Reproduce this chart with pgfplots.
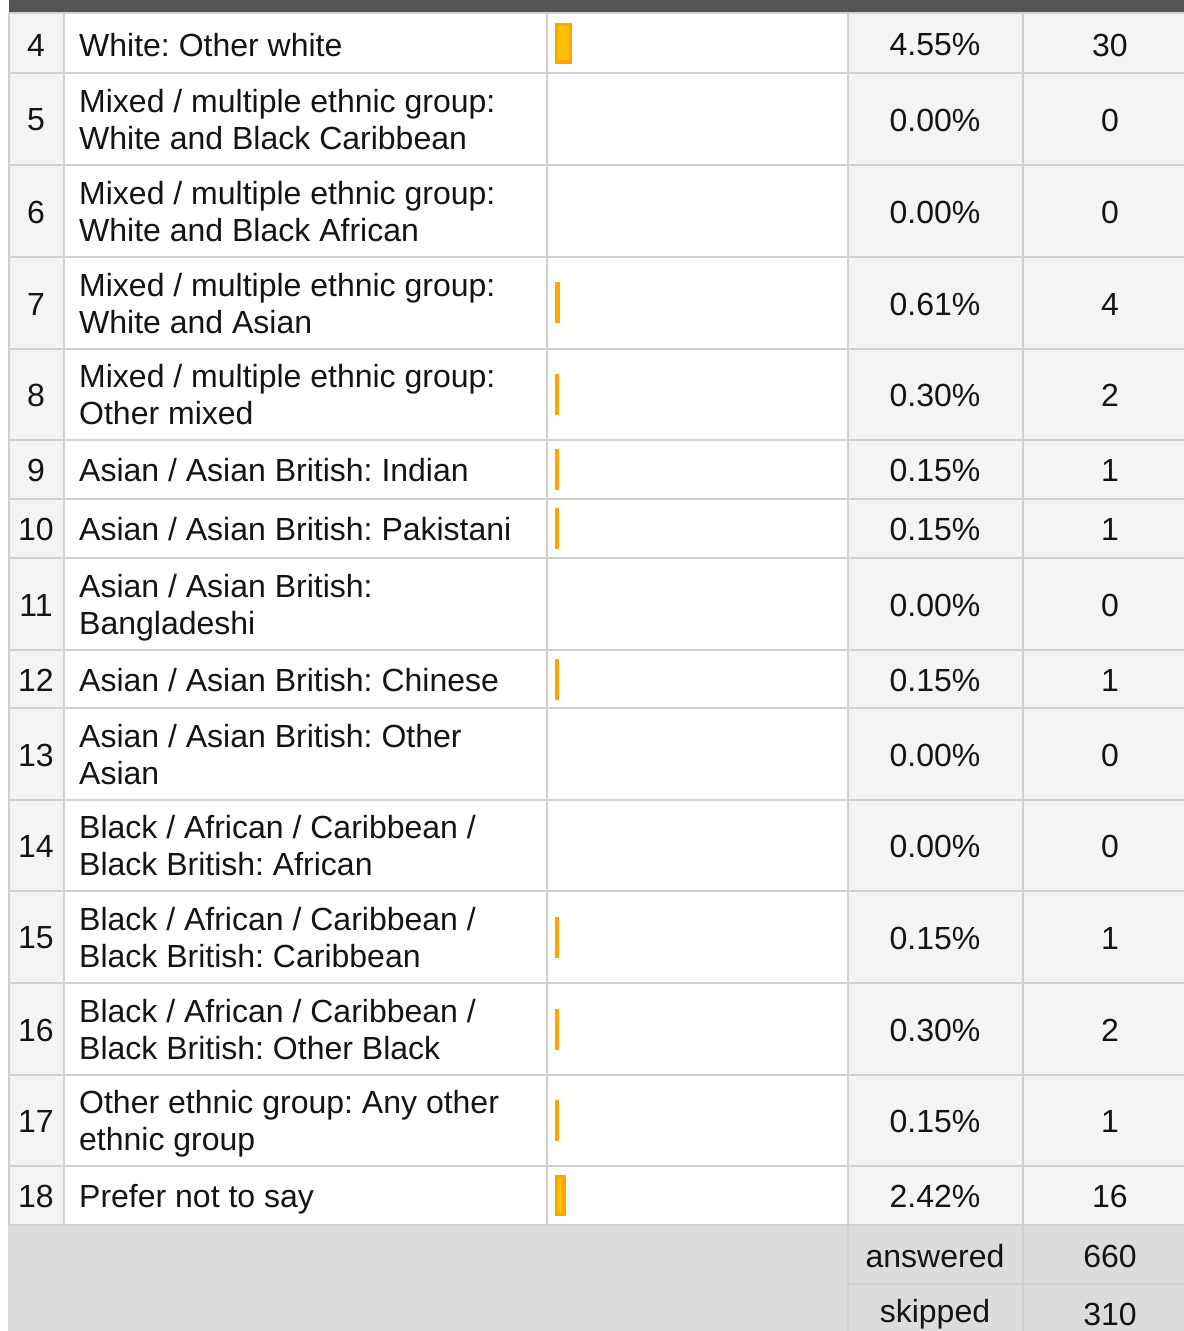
\documentclass[border=0pt]{standalone}
\usepackage{pgfplots}
\usepackage{pgfplotstable}
\pgfplotsset{compat=1.18}
\usepackage{fontspec}
\setmainfont{Liberation Sans}
\frenchspacing

\definecolor{topbar}{RGB}{84,86,85}
\definecolor{gridc}{RGB}{208,208,208}
\definecolor{cellbg}{RGB}{244,244,243}
\definecolor{footbg}{RGB}{220,220,220}
\definecolor{barfill}{RGB}{255,192,8}
\definecolor{barline}{RGB}{255,165,0}
\definecolor{txt}{RGB}{20,20,20}

% row number, row centre (px from top), percent, count
\pgfplotstableread{
row y pct count
4 43.5 4.55 30
5 119 0.00 0
6 211 0.00 0
7 303 0.61 4
8 394.5 0.30 2
9 469.5 0.15 1
10 528.5 0.15 1
11 604 0.00 0
12 679 0.15 1
13 754 0.00 0
14 845.5 0.00 0
15 937 0.15 1
16 1029 0.30 2
17 1120.5 0.15 1
18 1195.5 2.42 16
}\rows

\pgfplotsset{
  tbl/.style={
    width=1184bp, height=1331bp, scale only axis,
    at={(0,0)}, anchor=south west,
    ymin=0, ymax=1331, y dir=reverse,
    hide axis, clip=false,
  },
}

\begin{document}
\begin{tikzpicture}
\begin{axis}[tbl, xmin=0, xmax=1184]
  % backgrounds
  \fill[topbar] (9,0) rectangle (1184,13);
  \fill[cellbg] (9,13) rectangle (64,1225);
  \fill[white] (64,13) rectangle (848,1225);
  \fill[cellbg] (848,13) rectangle (1184,1225);
  \fill[footbg] (8,1225) rectangle (1184,1331);
  % grid
  \pgfplotsinvokeforeach{13,73,165,257,349,440,499,558,650,708,800,891,983,1075,1166,1225}{
    \draw[gridc, line width=2.5] (9,#1) -- (1184,#1);
  }
  \pgfplotsinvokeforeach{9,64,547,848,1023}{
    \draw[gridc, line width=2.5] (#1,13) -- (#1,1225);
  }
  \draw[gridc, line width=2.5] (848,1225) -- (848,1331);
  \draw[gridc, line width=2.5] (1023,1225) -- (1023,1331);
  \draw[gridc, line width=2.5] (848,1284) -- (1184,1284);

  % text
  \begin{scope}[every node/.style={text=txt, font=\fontsize{32bp}{37bp}\selectfont, inner sep=0pt}]
    \node at (36,45) {4};
    \node at (36,120) {5};
    \node at (36,212) {6};
    \node at (36,304) {7};
    \node at (36,395) {8};
    \node at (36,470) {9};
    \node at (36,529) {10};
    \node at (36,605) {11};
    \node at (36,680) {12};
    \node at (36,755) {13};
    \node at (36,846) {14};
    \node at (36,938) {15};
    \node at (36,1030) {16};
    \node at (36,1121) {17};
    \node at (36,1196) {18};

    \begin{scope}[every node/.append style={anchor=west, align=left}]
      \node at (79,45) {White: Other white};
      \node at (79,120) {Mixed / multiple ethnic group:\\White and Black Caribbean};
      \node at (79,212) {Mixed / multiple ethnic group:\\White and Black African};
      \node at (79,304) {Mixed / multiple ethnic group:\\White and Asian};
      \node at (79,395) {Mixed / multiple ethnic group:\\Other mixed};
      \node at (79,470) {Asian / Asian British: Indian};
      \node at (79,529) {Asian / Asian British: Pakistani};
      \node at (79,608) {Asian / Asian British:\\Bangladeshi};
      \node at (79,680) {Asian / Asian British: Chinese};
      \node at (79,755) {Asian / Asian British: Other\\Asian};
      \node at (79,846) {Black / African / Caribbean /\\Black British: African};
      \node at (79,938) {Black / African / Caribbean /\\Black British: Caribbean};
      \node at (79,1030) {Black / African / Caribbean /\\Black British: Other Black};
      \node at (79,1124) {Other ethnic group: Any other\\ethnic group};
      \node at (79,1199) {Prefer not to say};
    \end{scope}

    \node at (935,45) {4.55\%};
    \node at (935,120) {0.00\%};
    \node at (935,212) {0.00\%};
    \node at (935,304) {0.61\%};
    \node at (935,395) {0.30\%};
    \node at (935,470) {0.15\%};
    \node at (935,529) {0.15\%};
    \node at (935,605) {0.00\%};
    \node at (935,680) {0.15\%};
    \node at (935,755) {0.00\%};
    \node at (935,846) {0.00\%};
    \node at (935,938) {0.15\%};
    \node at (935,1030) {0.30\%};
    \node at (935,1121) {0.15\%};
    \node at (935,1196) {2.42\%};

    \node at (1110,45) {30};
    \node at (1110,120) {0};
    \node at (1110,212) {0};
    \node at (1110,304) {4};
    \node at (1110,395) {2};
    \node at (1110,470) {1};
    \node at (1110,529) {1};
    \node at (1110,605) {0};
    \node at (1110,680) {1};
    \node at (1110,755) {0};
    \node at (1110,846) {0};
    \node at (1110,938) {1};
    \node at (1110,1030) {2};
    \node at (1110,1121) {1};
    \node at (1110,1196) {16};

    \node at (935,1256) {answered};
    \node at (1110,1256) {660};
    \node at (935,1314) {skipped};
    \node at (1110,1314) {310};
  \end{scope}
\end{axis}

% bars: x in percent, origin at the bar column's left edge
\begin{axis}[tbl, xmin=-180, xmax=203]
  \addplot[xbar, bar width=37.5, bar shift=0pt, fill=barfill, draw=barline,
    line width=3.5bp, restrict x to domain=0.01:100]
    table[x=pct, y=y] {\rows};
\end{axis}

\pgfresetboundingbox
\path[use as bounding box] (0,0) rectangle (1184bp,1331bp);
\end{tikzpicture}
\end{document}
